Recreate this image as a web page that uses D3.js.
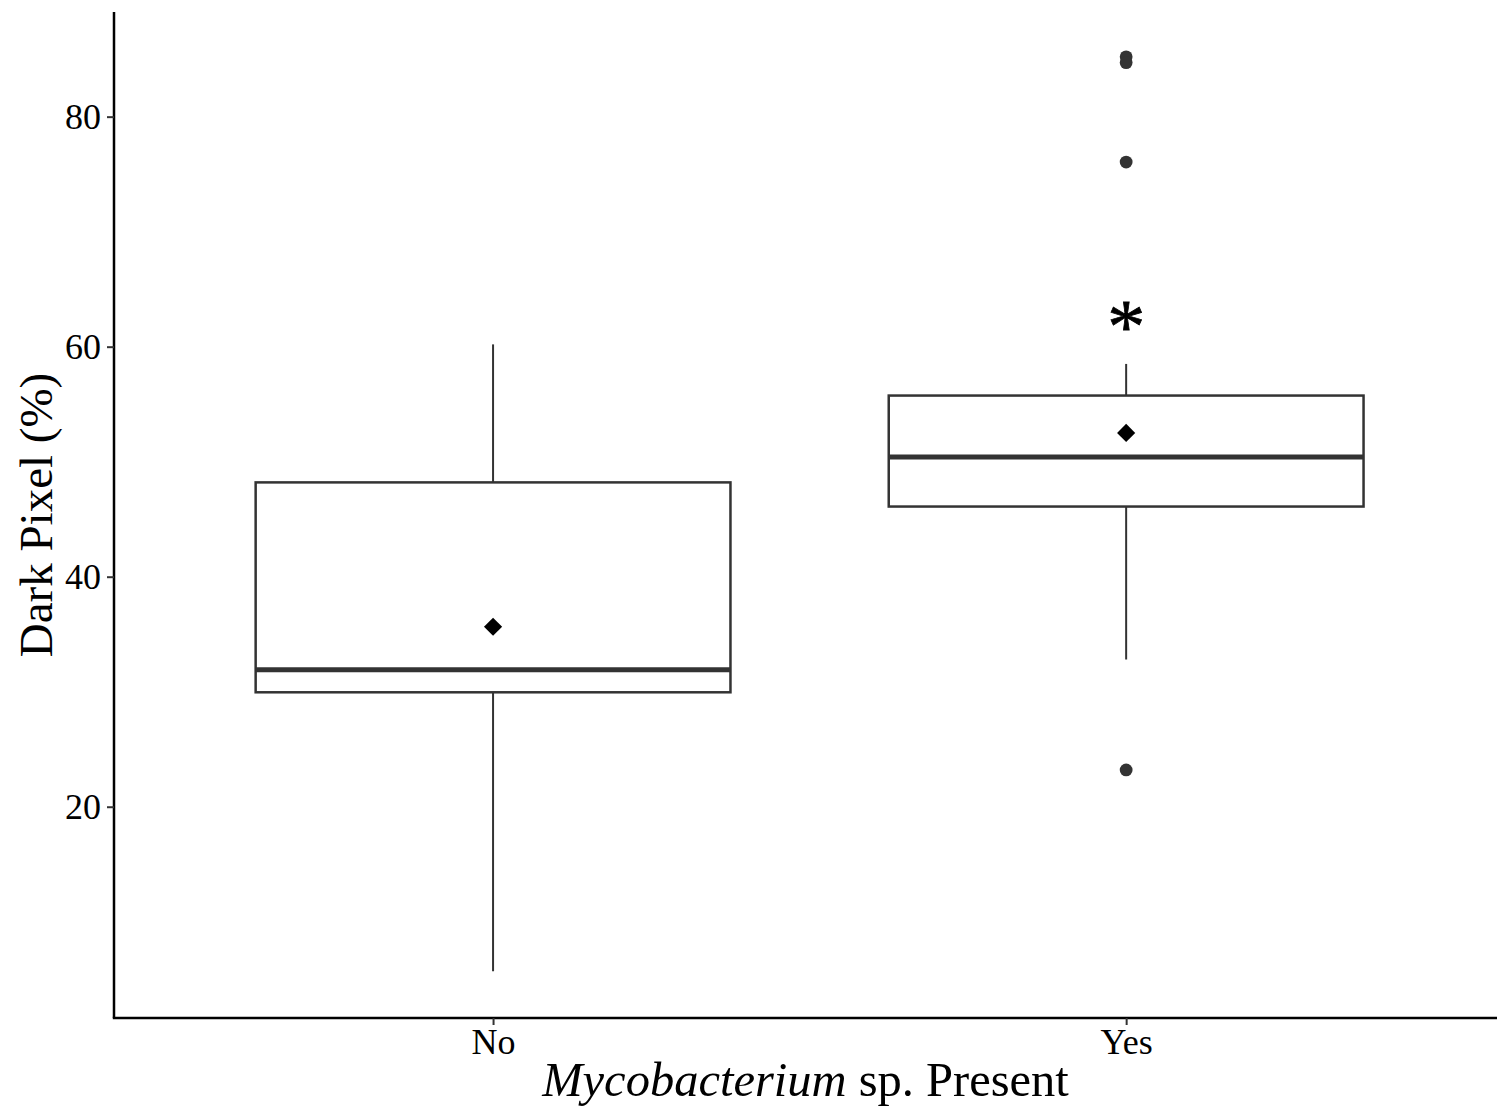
<!DOCTYPE html>
<html>
<head>
<meta charset="utf-8">
<script src="https://cdn.jsdelivr.net/npm/d3@7"></script>
<style>
  html, body { margin: 0; padding: 0; background: #fff; }
  svg { display: block; }
  text { font-family: "Liberation Serif", "Times New Roman", serif; }
</style>
</head>
<body>
<script>
// Dark pixel percentage by presence of Mycobacterium sp.
const groups = ["No", "Yes"];
const whiskerLow = [5.7, 32.8];
const quartile1 = [29.95, 46.1];
const medians = [31.9, 50.4];
const quartile3 = [48.2, 55.75];
const whiskerHigh = [60.2, 58.5];
const means = [35.65, 52.5];

const outlierGroup = ["Yes", "Yes", "Yes", "Yes"];
const outlierValue = [85.2, 84.7, 76.05, 23.2];

const sigGroup = "Yes";
const sigLabel = "*";
const sigValue = 62.6;

const yTicks = [20, 40, 60, 80];
const yDomain = [1.63, 89.1];

const xTitleItalic = "Mycobacterium";
const xTitleRest = " sp. Present";
const yTitle = "Dark Pixel (%)";

const W = 1497, H = 1108;
const panel = { left: 114, top: 12, bottom: 1018, right: 1506 };

const svg = d3.select("body").append("svg")
  .attr("width", W).attr("height", H);

const x = d3.scalePoint().domain(groups)
  .range([panel.left - 0.8, panel.right]).padding(0.6);
const y = d3.scaleLinear().domain(yDomain).range([panel.bottom, panel.top]);
const boxW = x.step() * 0.75;

const stroke = "#333333";

const boxes = groups.map((g, i) => ({
  g, lo: whiskerLow[i], q1: quartile1[i], med: medians[i],
  q3: quartile3[i], hi: whiskerHigh[i], mean: means[i]
}));

const gBox = svg.append("g");
// whiskers
gBox.selectAll("line.wu").data(boxes).join("line")
  .attr("x1", d => x(d.g)).attr("x2", d => x(d.g))
  .attr("y1", d => y(d.q3)).attr("y2", d => y(d.hi))
  .attr("stroke", stroke).attr("stroke-width", 2);
gBox.selectAll("line.wl").data(boxes).join("line")
  .attr("x1", d => x(d.g)).attr("x2", d => x(d.g))
  .attr("y1", d => y(d.q1)).attr("y2", d => y(d.lo))
  .attr("stroke", stroke).attr("stroke-width", 2);
// boxes
gBox.selectAll("rect").data(boxes).join("rect")
  .attr("x", d => x(d.g) - boxW / 2).attr("width", boxW)
  .attr("y", d => y(d.q3)).attr("height", d => y(d.q1) - y(d.q3))
  .attr("fill", "#fff").attr("stroke", stroke).attr("stroke-width", 2.5);
// medians
gBox.selectAll("line.med").data(boxes).join("line")
  .attr("x1", d => x(d.g) - boxW / 2).attr("x2", d => x(d.g) + boxW / 2)
  .attr("y1", d => y(d.med)).attr("y2", d => y(d.med))
  .attr("stroke", stroke).attr("stroke-width", 5);

// outliers
svg.append("g").selectAll("circle")
  .data(outlierValue.map((v, i) => ({ g: outlierGroup[i], v })))
  .join("circle")
  .attr("cx", d => x(d.g)).attr("cy", d => y(d.v)).attr("r", 6.4)
  .attr("fill", stroke);

// means as diamonds
const diamond = d3.symbol().type(d3.symbolSquare).size(165);
svg.append("g").selectAll("path").data(boxes).join("path")
  .attr("d", diamond)
  .attr("transform", d => `translate(${x(d.g)},${y(d.mean)}) rotate(45)`)
  .attr("fill", "#000");

// significance marker
svg.append("text")
  .attr("x", x(sigGroup)).attr("y", y(sigValue) + 35)
  .attr("text-anchor", "middle")
  .attr("font-size", 76)
  .attr("fill", "#000")
  .attr("stroke", "#000").attr("stroke-width", 0.8)
  .text(sigLabel);

// axes
const yAxis = svg.append("g")
  .attr("transform", `translate(${panel.left},0)`)
  .call(d3.axisLeft(y).tickValues(yTicks).tickSize(7).tickPadding(6));
const xAxis = svg.append("g")
  .attr("transform", `translate(0,${panel.bottom})`)
  .call(d3.axisBottom(x).tickSize(7).tickPadding(3));

[yAxis, xAxis].forEach(a => {
  a.select(".domain").attr("stroke", "#000").attr("stroke-width", 2.5);
  a.selectAll(".tick line").attr("stroke", stroke).attr("stroke-width", 2);
  a.selectAll(".tick text")
    .attr("font-family", "Liberation Serif, Times New Roman, serif")
    .attr("font-size", 36).attr("fill", "#000");
});
yAxis.select(".domain").attr("d", `M0,${panel.top}V${panel.bottom}`);
xAxis.select(".domain").attr("d", `M${panel.left - 1.2},0H${W}`);

// axis titles
svg.append("text")
  .attr("transform", `translate(52,${(panel.top + panel.bottom) / 2}) rotate(-90)`)
  .attr("text-anchor", "middle")
  .attr("font-size", 47)
  .attr("fill", "#000")
  .text(yTitle);

const xt = svg.append("text")
  .attr("x", (panel.left + W) / 2).attr("y", 1096)
  .attr("text-anchor", "middle")
  .attr("font-size", 48.5)
  .attr("fill", "#000");
xt.append("tspan").attr("font-style", "italic").text(xTitleItalic);
xt.append("tspan").text(xTitleRest);
</script>
</body>
</html>
